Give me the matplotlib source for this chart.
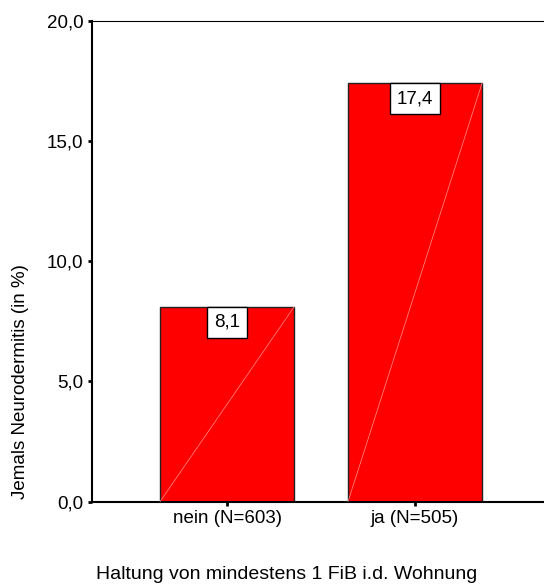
import matplotlib
matplotlib.use("Agg")
import matplotlib.pyplot as plt
from matplotlib.ticker import FuncFormatter

categories = ["nein (N=603)", "ja (N=505)"]
values = [8.1, 17.4]
y_ticks = [0.0, 5.0, 10.0, 15.0, 20.0]
x_title = "Haltung von mindestens 1 FiB i.d. Wohnung"
y_title = "Jemals Neurodermitis (in %)"

plt.rcParams["font.family"] = ["Liberation Sans", "DejaVu Sans"]

fig = plt.figure(figsize=(5.44, 5.84), dpi=100)
ax = fig.add_axes([0.1686, 0.141, 0.8314, 0.8236])

pos = list(range(len(categories)))
width = 0.713
ax.bar(pos, values, width=width, color="#ff0000", edgecolor="#222222", linewidth=1.0, zorder=2)

# thin diagonal line inside each bar (SPSS style)
for x, v in zip(pos, values):
    ax.plot([x - width / 2, x + width / 2], [0, v], color="#ff9090", lw=0.5, zorder=3)
    ax.annotate(f"{v:.1f}".replace(".", ","), xy=(x, v), xytext=(0, -5),
                textcoords="offset points", ha="center", va="top", fontsize=13.5,
                zorder=4,
                bbox=dict(boxstyle="square,pad=0.37", fc="white", ec="black", lw=1.0))

ax.set_xlim(-0.72, 1.686)
ax.set_ylim(0, 20)
ax.set_yticks(y_ticks)
ax.yaxis.set_major_formatter(FuncFormatter(lambda v, _: f"{v:.1f}".replace(".", ",")))
ax.set_xticks(pos)
ax.set_xticklabels(categories)
ax.tick_params(axis="both", direction="out", length=3, width=2, labelsize=13.5, pad=3)

ax.spines["right"].set_visible(False)
ax.spines["top"].set_linewidth(0.8)
ax.spines["left"].set_linewidth(1.5)
ax.spines["bottom"].set_linewidth(1.5)

fig.text(0.527, 0.016, x_title, ha="center", va="center", fontsize=14)
fig.text(0.037, 0.346, y_title, ha="center", va="center", rotation=90, fontsize=13.5)

fig.savefig("out.png", dpi=100)
